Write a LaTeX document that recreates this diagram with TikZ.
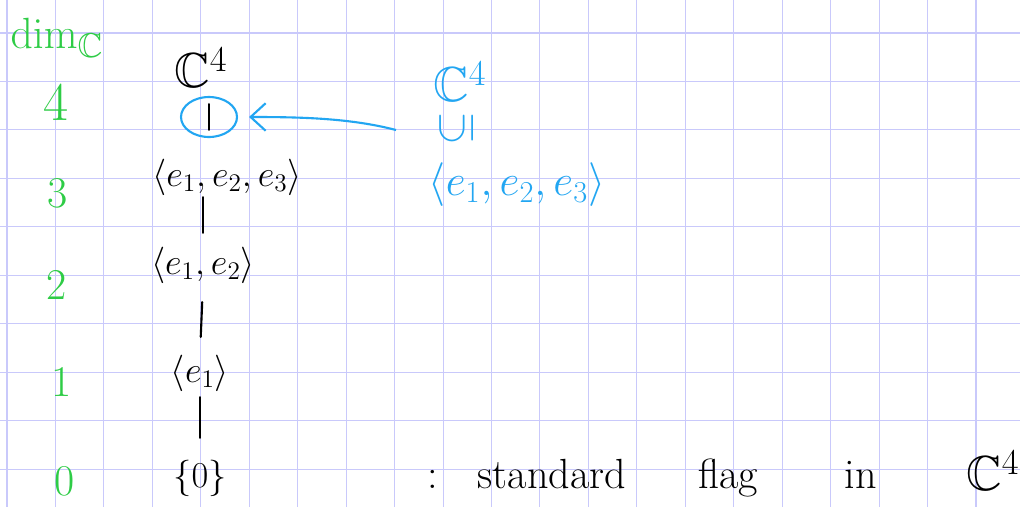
\documentclass[tikz,border=0pt]{standalone}
\usepackage{amssymb}
\usepackage{graphicx}
\usetikzlibrary{arrows.meta,positioning,shapes.geometric}
\definecolor{inkgreen}{HTML}{2ECC46}
\definecolor{inkblue}{HTML}{22A6F2}
\definecolor{gridlav}{HTML}{C9C9FB}
\newcommand{\hw}[1]{\fontsize{#1}{#1}\selectfont}

\begin{document}
\begin{tikzpicture}[x=0.2mm,y=-0.2mm,
  grd/.style={draw=gridlav,line width=0.6pt},
  sp/.style={inner sep=0pt,font=\hw{21}},
  dimno/.style={inner sep=0pt,text=inkgreen,font=\hw{25}},
  note/.style={inner sep=0pt,text=inkblue,font=\hw{25}},
  word/.style={inner sep=0pt,anchor=base,font=\hw{24}},
  link/.style={line width=1.2pt,line cap=round},
  pt/.style={-{Straight Barb[length=3mm,width=5.5mm]},draw=inkblue,line width=1.2pt}]

\fill[white] (0,0) rectangle (1020,507);
\useasboundingbox (0,0) rectangle (1020,507);
% grid paper
\foreach \i in {0,...,20} \draw[grd] (7+48.45*\i,0) -- (7+48.45*\i,507);
\foreach \j in {0,...,9} \draw[grd] (0,33+48.45*\j) -- (1020,33+48.45*\j);

% dimension column
\node[dimno,font=\hw{28}] (dimlbl) at (57,38) {$\dim_{\mathbb{C}}$};
\node[dimno,font=\hw{31}] (d4) at (56,102) {4};
\node[dimno] (d3) at (58,193) {3};
\node[dimno] (d2) at (57,285) {2};
\node[dimno] (d1) at (62,382) {1};
\node[dimno] (d0) at (65,481) {0};

% the flag
\node[sp,font=\hw{28}] (C4) at (201,68) {$\mathbb{C}^4$};
\node[sp] (E3) at (227,177) {$\langle e_1,e_2,e_3\rangle$};
\node[sp] (E2) at (203,265) {$\langle e_1,e_2\rangle$};
\node[sp] (E1) at (200,373) {$\langle e_1\rangle$};
\node[sp] (E0) at (200,478) {$\{0\}$};
\node[draw=inkblue,line width=1.2pt,ellipse,inner sep=0pt,
      minimum width=11.2mm,minimum height=8mm] (mark) at (209,117) {};

\draw[link,shorten <=3.2mm,shorten >=5.7mm] (C4.south -| mark) -- (E3.north -| mark);
\draw[link,shorten <=0.3mm,shorten >=2.7mm] (E3.south -| E2.north) -- (E2.north);
\draw[link,shorten <=3.7mm,shorten >=3.5mm] (E2.south) -- (E1.north);
\draw[link,shorten <=1.1mm,shorten >=4.3mm] (E1.south) -- (E0.north);

% blue remark
\node[note,font=\hw{28}] (bC4) at (460,82) {$\mathbb{C}^4$};
\node[note,font=\hw{26}] (sub) at (457,128) {\rotatebox{90}{$\subseteq$}};
\node[note] (bE3) at (517,185) {$\langle e_1,e_2,e_3\rangle$};
\coordinate (tail) at (396,130);
\draw[pt,shorten >=2.2mm] (tail) .. controls (350,118) and (300,117) .. (mark.east);

% caption
\node[word] (colon) at (433,488) {:};
\node[word] (w1) at (552,488) {standard};
\node[word] (w2) at (728,488) {flag};
\node[word] (w3) at (861,488) {in};
\node[word,font=\hw{28}] (w4) at (993,490) {$\mathbb{C}^4$};
\end{tikzpicture}
\end{document}
